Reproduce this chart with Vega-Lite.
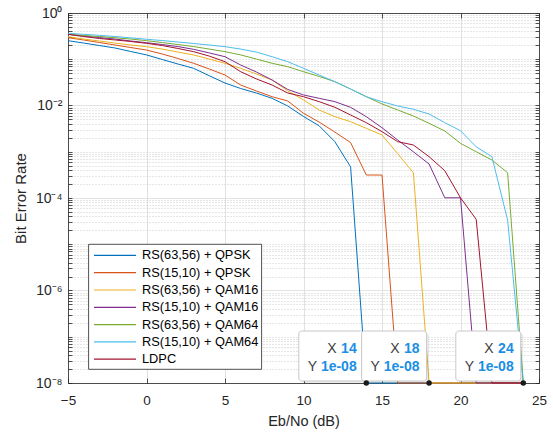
{
  "$schema": "https://vega.github.io/schema/vega-lite/v6.json",
  "width": 471,
  "height": 370,
  "autosize": "none",
  "padding": {"left": 68, "top": 13, "right": 14, "bottom": 49},
  "background": "white",
  "config": {
    "font": "Liberation Sans",
    "view": {"stroke": null},
    "legend": {"strokeWidth": 0.8},
    "axis": {
      "domainColor": "#262626",
      "domainWidth": 0.8,
      "tickColor": "#262626",
      "tickWidth": 0.8,
      "labelColor": "#262626",
      "titleColor": "#262626",
      "labelFontSize": 13.5,
      "titleFontSize": 14.5,
      "titleFontWeight": "normal",
      "labelFlush": false,
      "labelOverlap": false
    }
  },
  "datasets": {
    "ber": [
      {"ebno": -5, "ber": 0.252, "scheme": "RS(63,56) + QPSK"},
      {"ebno": -4, "ber": 0.224, "scheme": "RS(63,56) + QPSK"},
      {"ebno": -3, "ber": 0.198, "scheme": "RS(63,56) + QPSK"},
      {"ebno": -2, "ber": 0.175, "scheme": "RS(63,56) + QPSK"},
      {"ebno": -1, "ber": 0.147, "scheme": "RS(63,56) + QPSK"},
      {"ebno": 0, "ber": 0.124, "scheme": "RS(63,56) + QPSK"},
      {"ebno": 1, "ber": 0.0989, "scheme": "RS(63,56) + QPSK"},
      {"ebno": 2, "ber": 0.0789, "scheme": "RS(63,56) + QPSK"},
      {"ebno": 3, "ber": 0.0637, "scheme": "RS(63,56) + QPSK"},
      {"ebno": 4, "ber": 0.044, "scheme": "RS(63,56) + QPSK"},
      {"ebno": 5, "ber": 0.0306, "scheme": "RS(63,56) + QPSK"},
      {"ebno": 6, "ber": 0.0233, "scheme": "RS(63,56) + QPSK"},
      {"ebno": 7, "ber": 0.0186, "scheme": "RS(63,56) + QPSK"},
      {"ebno": 8, "ber": 0.0143, "scheme": "RS(63,56) + QPSK"},
      {"ebno": 9, "ber": 0.00975, "scheme": "RS(63,56) + QPSK"},
      {"ebno": 10, "ber": 0.0058, "scheme": "RS(63,56) + QPSK"},
      {"ebno": 11, "ber": 0.00363, "scheme": "RS(63,56) + QPSK"},
      {"ebno": 12, "ber": 0.00165, "scheme": "RS(63,56) + QPSK"},
      {"ebno": 13, "ber": 0.00047, "scheme": "RS(63,56) + QPSK"},
      {"ebno": 14, "ber": 1e-8, "scheme": "RS(63,56) + QPSK"},
      {"ebno": 15, "ber": 1e-8, "scheme": "RS(63,56) + QPSK"},
      {"ebno": 16, "ber": 1e-8, "scheme": "RS(63,56) + QPSK"},
      {"ebno": 17, "ber": 1e-8, "scheme": "RS(63,56) + QPSK"},
      {"ebno": 18, "ber": 1e-8, "scheme": "RS(63,56) + QPSK"},
      {"ebno": 19, "ber": 1e-8, "scheme": "RS(63,56) + QPSK"},
      {"ebno": 20, "ber": 1e-8, "scheme": "RS(63,56) + QPSK"},
      {"ebno": 21, "ber": 1e-8, "scheme": "RS(63,56) + QPSK"},
      {"ebno": 22, "ber": 1e-8, "scheme": "RS(63,56) + QPSK"},
      {"ebno": 23, "ber": 1e-8, "scheme": "RS(63,56) + QPSK"},
      {"ebno": 24, "ber": 1e-8, "scheme": "RS(63,56) + QPSK"},

      {"ebno": -5, "ber": 0.292, "scheme": "RS(15,10) + QPSK"},
      {"ebno": -4, "ber": 0.261, "scheme": "RS(15,10) + QPSK"},
      {"ebno": -3, "ber": 0.23, "scheme": "RS(15,10) + QPSK"},
      {"ebno": -2, "ber": 0.203, "scheme": "RS(15,10) + QPSK"},
      {"ebno": -1, "ber": 0.179, "scheme": "RS(15,10) + QPSK"},
      {"ebno": 0, "ber": 0.158, "scheme": "RS(15,10) + QPSK"},
      {"ebno": 1, "ber": 0.13, "scheme": "RS(15,10) + QPSK"},
      {"ebno": 2, "ber": 0.104, "scheme": "RS(15,10) + QPSK"},
      {"ebno": 3, "ber": 0.0817, "scheme": "RS(15,10) + QPSK"},
      {"ebno": 4, "ber": 0.0615, "scheme": "RS(15,10) + QPSK"},
      {"ebno": 5, "ber": 0.0456, "scheme": "RS(15,10) + QPSK"},
      {"ebno": 6, "ber": 0.0277, "scheme": "RS(15,10) + QPSK"},
      {"ebno": 7, "ber": 0.0206, "scheme": "RS(15,10) + QPSK"},
      {"ebno": 8, "ber": 0.0155, "scheme": "RS(15,10) + QPSK"},
      {"ebno": 9, "ber": 0.0125, "scheme": "RS(15,10) + QPSK"},
      {"ebno": 10, "ber": 0.00678, "scheme": "RS(15,10) + QPSK"},
      {"ebno": 11, "ber": 0.00438, "scheme": "RS(15,10) + QPSK"},
      {"ebno": 12, "ber": 0.00266, "scheme": "RS(15,10) + QPSK"},
      {"ebno": 13, "ber": 0.00158, "scheme": "RS(15,10) + QPSK"},
      {"ebno": 14, "ber": 0.000314, "scheme": "RS(15,10) + QPSK"},
      {"ebno": 15, "ber": 0.000314, "scheme": "RS(15,10) + QPSK"},
      {"ebno": 16, "ber": 1e-8, "scheme": "RS(15,10) + QPSK"},
      {"ebno": 17, "ber": 1e-8, "scheme": "RS(15,10) + QPSK"},
      {"ebno": 18, "ber": 1e-8, "scheme": "RS(15,10) + QPSK"},
      {"ebno": 19, "ber": 1e-8, "scheme": "RS(15,10) + QPSK"},
      {"ebno": 20, "ber": 1e-8, "scheme": "RS(15,10) + QPSK"},
      {"ebno": 21, "ber": 1e-8, "scheme": "RS(15,10) + QPSK"},
      {"ebno": 22, "ber": 1e-8, "scheme": "RS(15,10) + QPSK"},
      {"ebno": 23, "ber": 1e-8, "scheme": "RS(15,10) + QPSK"},
      {"ebno": 24, "ber": 1e-8, "scheme": "RS(15,10) + QPSK"},

      {"ebno": -5, "ber": 0.308, "scheme": "RS(63,56) + QAM16"},
      {"ebno": -4, "ber": 0.273, "scheme": "RS(63,56) + QAM16"},
      {"ebno": -3, "ber": 0.248, "scheme": "RS(63,56) + QAM16"},
      {"ebno": -2, "ber": 0.224, "scheme": "RS(63,56) + QAM16"},
      {"ebno": -1, "ber": 0.203, "scheme": "RS(63,56) + QAM16"},
      {"ebno": 0, "ber": 0.187, "scheme": "RS(63,56) + QAM16"},
      {"ebno": 1, "ber": 0.166, "scheme": "RS(63,56) + QAM16"},
      {"ebno": 2, "ber": 0.143, "scheme": "RS(63,56) + QAM16"},
      {"ebno": 3, "ber": 0.124, "scheme": "RS(63,56) + QAM16"},
      {"ebno": 4, "ber": 0.101, "scheme": "RS(63,56) + QAM16"},
      {"ebno": 5, "ber": 0.0817, "scheme": "RS(63,56) + QAM16"},
      {"ebno": 6, "ber": 0.0637, "scheme": "RS(63,56) + QAM16"},
      {"ebno": 7, "ber": 0.048, "scheme": "RS(63,56) + QAM16"},
      {"ebno": 8, "ber": 0.0356, "scheme": "RS(63,56) + QAM16"},
      {"ebno": 9, "ber": 0.0206, "scheme": "RS(63,56) + QAM16"},
      {"ebno": 10, "ber": 0.0132, "scheme": "RS(63,56) + QAM16"},
      {"ebno": 11, "ber": 0.008, "scheme": "RS(63,56) + QAM16"},
      {"ebno": 12, "ber": 0.00573, "scheme": "RS(63,56) + QAM16"},
      {"ebno": 13, "ber": 0.00447, "scheme": "RS(63,56) + QAM16"},
      {"ebno": 14, "ber": 0.00321, "scheme": "RS(63,56) + QAM16"},
      {"ebno": 15, "ber": 0.0023, "scheme": "RS(63,56) + QAM16"},
      {"ebno": 16, "ber": 0.00091, "scheme": "RS(63,56) + QAM16"},
      {"ebno": 17, "ber": 0.000352, "scheme": "RS(63,56) + QAM16"},
      {"ebno": 18, "ber": 1e-8, "scheme": "RS(63,56) + QAM16"},
      {"ebno": 19, "ber": 1e-8, "scheme": "RS(63,56) + QAM16"},
      {"ebno": 20, "ber": 1e-8, "scheme": "RS(63,56) + QAM16"},
      {"ebno": 21, "ber": 1e-8, "scheme": "RS(63,56) + QAM16"},
      {"ebno": 22, "ber": 1e-8, "scheme": "RS(63,56) + QAM16"},
      {"ebno": 23, "ber": 1e-8, "scheme": "RS(63,56) + QAM16"},
      {"ebno": 24, "ber": 1e-8, "scheme": "RS(63,56) + QAM16"},

      {"ebno": -5, "ber": 0.346, "scheme": "RS(15,10) + QAM16"},
      {"ebno": -4, "ber": 0.318, "scheme": "RS(15,10) + QAM16"},
      {"ebno": -3, "ber": 0.295, "scheme": "RS(15,10) + QAM16"},
      {"ebno": -2, "ber": 0.273, "scheme": "RS(15,10) + QAM16"},
      {"ebno": -1, "ber": 0.248, "scheme": "RS(15,10) + QAM16"},
      {"ebno": 0, "ber": 0.228, "scheme": "RS(15,10) + QAM16"},
      {"ebno": 1, "ber": 0.208, "scheme": "RS(15,10) + QAM16"},
      {"ebno": 2, "ber": 0.188, "scheme": "RS(15,10) + QAM16"},
      {"ebno": 3, "ber": 0.164, "scheme": "RS(15,10) + QAM16"},
      {"ebno": 4, "ber": 0.137, "scheme": "RS(15,10) + QAM16"},
      {"ebno": 5, "ber": 0.1135, "scheme": "RS(15,10) + QAM16"},
      {"ebno": 6, "ber": 0.075, "scheme": "RS(15,10) + QAM16"},
      {"ebno": 7, "ber": 0.053, "scheme": "RS(15,10) + QAM16"},
      {"ebno": 8, "ber": 0.0356, "scheme": "RS(15,10) + QAM16"},
      {"ebno": 9, "ber": 0.0222, "scheme": "RS(15,10) + QAM16"},
      {"ebno": 10, "ber": 0.0169, "scheme": "RS(15,10) + QAM16"},
      {"ebno": 11, "ber": 0.0143, "scheme": "RS(15,10) + QAM16"},
      {"ebno": 12, "ber": 0.0121, "scheme": "RS(15,10) + QAM16"},
      {"ebno": 13, "ber": 0.00914, "scheme": "RS(15,10) + QAM16"},
      {"ebno": 14, "ber": 0.00573, "scheme": "RS(15,10) + QAM16"},
      {"ebno": 15, "ber": 0.00331, "scheme": "RS(15,10) + QAM16"},
      {"ebno": 16, "ber": 0.00179, "scheme": "RS(15,10) + QAM16"},
      {"ebno": 17, "ber": 0.001, "scheme": "RS(15,10) + QAM16"},
      {"ebno": 18, "ber": 0.000543, "scheme": "RS(15,10) + QAM16"},
      {"ebno": 19, "ber": 0.000101, "scheme": "RS(15,10) + QAM16"},
      {"ebno": 20, "ber": 0.000101, "scheme": "RS(15,10) + QAM16"},
      {"ebno": 21, "ber": 1e-8, "scheme": "RS(15,10) + QAM16"},
      {"ebno": 22, "ber": 1e-8, "scheme": "RS(15,10) + QAM16"},
      {"ebno": 23, "ber": 1e-8, "scheme": "RS(15,10) + QAM16"},
      {"ebno": 24, "ber": 1e-8, "scheme": "RS(15,10) + QAM16"},

      {"ebno": -5, "ber": 0.346, "scheme": "RS(63,56) + QAM64"},
      {"ebno": -4, "ber": 0.326, "scheme": "RS(63,56) + QAM64"},
      {"ebno": -3, "ber": 0.31, "scheme": "RS(63,56) + QAM64"},
      {"ebno": -2, "ber": 0.292, "scheme": "RS(63,56) + QAM64"},
      {"ebno": -1, "ber": 0.273, "scheme": "RS(63,56) + QAM64"},
      {"ebno": 0, "ber": 0.252, "scheme": "RS(63,56) + QAM64"},
      {"ebno": 1, "ber": 0.23, "scheme": "RS(63,56) + QAM64"},
      {"ebno": 2, "ber": 0.208, "scheme": "RS(63,56) + QAM64"},
      {"ebno": 3, "ber": 0.188, "scheme": "RS(63,56) + QAM64"},
      {"ebno": 4, "ber": 0.166, "scheme": "RS(63,56) + QAM64"},
      {"ebno": 5, "ber": 0.146, "scheme": "RS(63,56) + QAM64"},
      {"ebno": 6, "ber": 0.124, "scheme": "RS(63,56) + QAM64"},
      {"ebno": 7, "ber": 0.101, "scheme": "RS(63,56) + QAM64"},
      {"ebno": 8, "ber": 0.0817, "scheme": "RS(63,56) + QAM64"},
      {"ebno": 9, "ber": 0.069, "scheme": "RS(63,56) + QAM64"},
      {"ebno": 10, "ber": 0.0538, "scheme": "RS(63,56) + QAM64"},
      {"ebno": 11, "ber": 0.0424, "scheme": "RS(63,56) + QAM64"},
      {"ebno": 12, "ber": 0.0327, "scheme": "RS(63,56) + QAM64"},
      {"ebno": 13, "ber": 0.0227, "scheme": "RS(63,56) + QAM64"},
      {"ebno": 14, "ber": 0.0155, "scheme": "RS(63,56) + QAM64"},
      {"ebno": 15, "ber": 0.0108, "scheme": "RS(63,56) + QAM64"},
      {"ebno": 16, "ber": 0.008, "scheme": "RS(63,56) + QAM64"},
      {"ebno": 17, "ber": 0.00593, "scheme": "RS(63,56) + QAM64"},
      {"ebno": 18, "ber": 0.00412, "scheme": "RS(63,56) + QAM64"},
      {"ebno": 19, "ber": 0.00281, "scheme": "RS(63,56) + QAM64"},
      {"ebno": 20, "ber": 0.00152, "scheme": "RS(63,56) + QAM64"},
      {"ebno": 21, "ber": 0.001, "scheme": "RS(63,56) + QAM64"},
      {"ebno": 22, "ber": 0.000664, "scheme": "RS(63,56) + QAM64"},
      {"ebno": 23, "ber": 0.000352, "scheme": "RS(63,56) + QAM64"},
      {"ebno": 24, "ber": 1e-8, "scheme": "RS(63,56) + QAM64"},

      {"ebno": -5, "ber": 0.364, "scheme": "RS(15,10) + QAM64"},
      {"ebno": -4, "ber": 0.346, "scheme": "RS(15,10) + QAM64"},
      {"ebno": -3, "ber": 0.329, "scheme": "RS(15,10) + QAM64"},
      {"ebno": -2, "ber": 0.31, "scheme": "RS(15,10) + QAM64"},
      {"ebno": -1, "ber": 0.29, "scheme": "RS(15,10) + QAM64"},
      {"ebno": 0, "ber": 0.27, "scheme": "RS(15,10) + QAM64"},
      {"ebno": 1, "ber": 0.254, "scheme": "RS(15,10) + QAM64"},
      {"ebno": 2, "ber": 0.236, "scheme": "RS(15,10) + QAM64"},
      {"ebno": 3, "ber": 0.219, "scheme": "RS(15,10) + QAM64"},
      {"ebno": 4, "ber": 0.203, "scheme": "RS(15,10) + QAM64"},
      {"ebno": 5, "ber": 0.187, "scheme": "RS(15,10) + QAM64"},
      {"ebno": 6, "ber": 0.166, "scheme": "RS(15,10) + QAM64"},
      {"ebno": 7, "ber": 0.143, "scheme": "RS(15,10) + QAM64"},
      {"ebno": 8, "ber": 0.1135, "scheme": "RS(15,10) + QAM64"},
      {"ebno": 9, "ber": 0.0885, "scheme": "RS(15,10) + QAM64"},
      {"ebno": 10, "ber": 0.0637, "scheme": "RS(15,10) + QAM64"},
      {"ebno": 11, "ber": 0.0456, "scheme": "RS(15,10) + QAM64"},
      {"ebno": 12, "ber": 0.0327, "scheme": "RS(15,10) + QAM64"},
      {"ebno": 13, "ber": 0.0227, "scheme": "RS(15,10) + QAM64"},
      {"ebno": 14, "ber": 0.0155, "scheme": "RS(15,10) + QAM64"},
      {"ebno": 15, "ber": 0.0121, "scheme": "RS(15,10) + QAM64"},
      {"ebno": 16, "ber": 0.00975, "scheme": "RS(15,10) + QAM64"},
      {"ebno": 17, "ber": 0.00828, "scheme": "RS(15,10) + QAM64"},
      {"ebno": 18, "ber": 0.00655, "scheme": "RS(15,10) + QAM64"},
      {"ebno": 19, "ber": 0.00425, "scheme": "RS(15,10) + QAM64"},
      {"ebno": 20, "ber": 0.00285, "scheme": "RS(15,10) + QAM64"},
      {"ebno": 21, "ber": 0.00128, "scheme": "RS(15,10) + QAM64"},
      {"ebno": 22, "ber": 0.000782, "scheme": "RS(15,10) + QAM64"},
      {"ebno": 23, "ber": 0.0000334, "scheme": "RS(15,10) + QAM64"},
      {"ebno": 24, "ber": 1e-8, "scheme": "RS(15,10) + QAM64"},

      {"ebno": -5, "ber": 0.346, "scheme": "LDPC"},
      {"ebno": -4, "ber": 0.31, "scheme": "LDPC"},
      {"ebno": -3, "ber": 0.281, "scheme": "LDPC"},
      {"ebno": -2, "ber": 0.261, "scheme": "LDPC"},
      {"ebno": -1, "ber": 0.242, "scheme": "LDPC"},
      {"ebno": 0, "ber": 0.221, "scheme": "LDPC"},
      {"ebno": 1, "ber": 0.198, "scheme": "LDPC"},
      {"ebno": 2, "ber": 0.171, "scheme": "LDPC"},
      {"ebno": 3, "ber": 0.146, "scheme": "LDPC"},
      {"ebno": 4, "ber": 0.117, "scheme": "LDPC"},
      {"ebno": 5, "ber": 0.0885, "scheme": "LDPC"},
      {"ebno": 6, "ber": 0.0538, "scheme": "LDPC"},
      {"ebno": 7, "ber": 0.0375, "scheme": "LDPC"},
      {"ebno": 8, "ber": 0.0277, "scheme": "LDPC"},
      {"ebno": 9, "ber": 0.0186, "scheme": "LDPC"},
      {"ebno": 10, "ber": 0.0155, "scheme": "LDPC"},
      {"ebno": 11, "ber": 0.0121, "scheme": "LDPC"},
      {"ebno": 12, "ber": 0.00914, "scheme": "LDPC"},
      {"ebno": 13, "ber": 0.00624, "scheme": "LDPC"},
      {"ebno": 14, "ber": 0.00425, "scheme": "LDPC"},
      {"ebno": 15, "ber": 0.00272, "scheme": "LDPC"},
      {"ebno": 16, "ber": 0.00165, "scheme": "LDPC"},
      {"ebno": 17, "ber": 0.0014, "scheme": "LDPC"},
      {"ebno": 18, "ber": 0.000782, "scheme": "LDPC"},
      {"ebno": 19, "ber": 0.000389, "scheme": "LDPC"},
      {"ebno": 20, "ber": 0.000101, "scheme": "LDPC"},
      {"ebno": 21, "ber": 0.0000346, "scheme": "LDPC"},
      {"ebno": 22, "ber": 1e-8, "scheme": "LDPC"},
      {"ebno": 23, "ber": 1e-8, "scheme": "LDPC"},
      {"ebno": 24, "ber": 1e-8, "scheme": "LDPC"}
    ],
    "tips": [
      {"ebno": 14, "ber": 1e-8, "xv": "14", "yv": "1e-08"},
      {"ebno": 18, "ber": 1e-8, "xv": "18", "yv": "1e-08"},
      {"ebno": 24, "ber": 1e-8, "xv": "24", "yv": "1e-08"}
    ]
  },
  "layer": [
    {
      "data": {"name": "ber"},
      "mark": {"type": "line", "strokeWidth": 1},
      "encoding": {
        "x": {
          "field": "ebno", "type": "quantitative",
          "scale": {"domain": [-5, 25], "nice": false, "zero": false},
          "axis": {
            "orient": "bottom", "title": "Eb/No (dB)",
            "values": [-5, 0, 5, 10, 15, 20, 25],
            "grid": true, "gridColor": "#dedede", "gridWidth": 0.9,
            "tickSize": -5, "labelPadding": 15, "titlePadding": 8
          }
        },
        "y": {
          "field": "ber", "type": "quantitative",
          "scale": {"type": "log", "domain": [1e-8, 1], "nice": false},
          "axis": {
            "orient": "left", "title": "Bit Error Rate",
            "values": [1e-8, 2e-8, 3e-8, 4e-8, 5e-8, 6e-8, 7e-8, 8e-8, 9e-8,
                       1e-7, 2e-7, 3e-7, 4e-7, 5e-7, 6e-7, 7e-7, 8e-7, 9e-7,
                       1e-6, 2e-6, 3e-6, 4e-6, 5e-6, 6e-6, 7e-6, 8e-6, 9e-6,
                       1e-5, 2e-5, 3e-5, 4e-5, 5e-5, 6e-5, 7e-5, 8e-5, 9e-5,
                       1e-4, 2e-4, 3e-4, 4e-4, 5e-4, 6e-4, 7e-4, 8e-4, 9e-4,
                       1e-3, 2e-3, 3e-3, 4e-3, 5e-3, 6e-3, 7e-3, 8e-3, 9e-3,
                       0.01, 0.02, 0.03, 0.04, 0.05, 0.06, 0.07, 0.08, 0.09,
                       0.1, 0.2, 0.3, 0.4, 0.5, 0.6, 0.7, 0.8, 0.9, 1],
            "labelExpr": "datum.value > 0.9 ? '10⁰' : abs(datum.value - 0.01) < 1e-4 ? '10⁻²' : abs(datum.value - 1e-4) < 1e-6 ? '10⁻⁴' : abs(datum.value - 1e-6) < 1e-8 ? '10⁻⁶' : abs(datum.value - 1e-8) < 1e-10 ? '10⁻⁸' : ''",
            "labelFontSize": 14,
            "grid": true,
            "gridColor": {"condition": {"test": "datum.value > 0.9 || abs(datum.value - 0.01) < 1e-4 || abs(datum.value - 1e-4) < 1e-6 || abs(datum.value - 1e-6) < 1e-8 || abs(datum.value - 1e-8) < 1e-10", "value": "#dedede"}, "value": "#c4c4c4"},
            "gridDash": {"condition": {"test": "datum.value > 0.9 || abs(datum.value - 0.01) < 1e-4 || abs(datum.value - 1e-4) < 1e-6 || abs(datum.value - 1e-6) < 1e-8 || abs(datum.value - 1e-8) < 1e-10", "value": []}, "value": [1, 2]},
            "gridWidth": 0.85,
            "tickSize": -4, "labelPadding": 10, "titlePadding": 7,
            "titleFontSize": 15
          }
        },
        "color": {
          "field": "scheme", "type": "nominal",
          "scale": {
            "domain": ["RS(63,56) + QPSK", "RS(15,10) + QPSK", "RS(63,56) + QAM16", "RS(15,10) + QAM16", "RS(63,56) + QAM64", "RS(15,10) + QAM64", "LDPC"],
            "range": ["#0072BD", "#D95319", "#EDB120", "#7E2F8E", "#77AC30", "#4DBEEE", "#A2142F"]
          },
          "legend": {
            "orient": "none", "legendX": 20.3, "legendY": 231,
            "title": null,
            "symbolType": "M-1,0H4.25",
            "symbolSize": 256,
            "symbolStrokeWidth": 1.2,
            "symbolOffset": 2.3,
            "labelOffset": 31,
            "labelFontSize": 12.8,
            "labelColor": "#000000",
            "labelLimit": 300,
            "fillColor": "white",
            "strokeColor": "#262626",
            "padding": 2.4,
            "rowPadding": 1.3,
            "cornerRadius": 0
          }
        }
      }
    },
    {
      "data": {"name": "tips"},
      "mark": {"type": "point", "opacity": 0},
      "encoding": {
        "x": {
          "field": "ebno", "type": "quantitative",
          "axis": {
            "orient": "top", "title": null, "labels": false,
            "values": [-5, 0, 5, 10, 15, 20, 25],
            "grid": false, "tickSize": -5
          }
        },
        "y": {
          "field": "ber", "type": "quantitative",
          "axis": {
            "orient": "right", "title": null, "labels": false,
            "values": [1e-8, 2e-8, 3e-8, 4e-8, 5e-8, 6e-8, 7e-8, 8e-8, 9e-8,
                       1e-7, 2e-7, 3e-7, 4e-7, 5e-7, 6e-7, 7e-7, 8e-7, 9e-7,
                       1e-6, 2e-6, 3e-6, 4e-6, 5e-6, 6e-6, 7e-6, 8e-6, 9e-6,
                       1e-5, 2e-5, 3e-5, 4e-5, 5e-5, 6e-5, 7e-5, 8e-5, 9e-5,
                       1e-4, 2e-4, 3e-4, 4e-4, 5e-4, 6e-4, 7e-4, 8e-4, 9e-4,
                       1e-3, 2e-3, 3e-3, 4e-3, 5e-3, 6e-3, 7e-3, 8e-3, 9e-3,
                       0.01, 0.02, 0.03, 0.04, 0.05, 0.06, 0.07, 0.08, 0.09,
                       0.1, 0.2, 0.3, 0.4, 0.5, 0.6, 0.7, 0.8, 0.9, 1],
            "grid": false,
            "tickSize": -4
          }
        }
      }
    },
    {
      "data": {"name": "tips"},
      "encoding": {
        "x": {"field": "ebno", "type": "quantitative", "axis": null},
        "y": {"field": "ber", "type": "quantitative", "axis": null}
      },
      "layer": [
        {"mark": {"type": "rect", "width": 65, "height": 50, "xOffset": -32.5, "yOffset": -25, "fill": "#000000", "opacity": 0.07, "cornerRadius": 3}},
        {"mark": {"type": "rect", "width": 65, "height": 50, "xOffset": -35, "yOffset": -27, "fill": "#ffffff", "stroke": "#c8c8c8", "cornerRadius": 3}},
        {"mark": {"type": "point", "filled": true, "color": "#1a1a1a", "size": 30, "opacity": 1}},
        {"mark": {"type": "text", "text": "X", "align": "right", "baseline": "middle", "dx": -29.6, "dy": -34, "fontSize": 14, "color": "#404040"}},
        {"mark": {"type": "text", "text": "Y", "align": "right", "baseline": "middle", "dx": -49.3, "dy": -16.3, "fontSize": 14, "color": "#404040"}},
        {"mark": {"type": "text", "align": "right", "baseline": "middle", "dx": -9.6, "dy": -34, "fontSize": 14, "fontWeight": "bold", "color": "#1a8fe3"}, "encoding": {"text": {"field": "xv"}}},
        {"mark": {"type": "text", "align": "right", "baseline": "middle", "dx": -9.6, "dy": -16.3, "fontSize": 14, "fontWeight": "bold", "color": "#1a8fe3"}, "encoding": {"text": {"field": "yv"}}}
      ]
    }
  ],
  "resolve": {"axis": {"x": "independent", "y": "independent"}}
}
